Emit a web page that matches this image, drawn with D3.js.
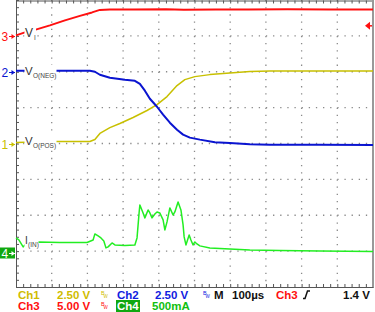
<!DOCTYPE html>
<html>
<head>
<meta charset="utf-8">
<script src="https://cdn.jsdelivr.net/npm/d3@7"></script>
<style>
  body { margin: 0; background: #fff; }
  svg { display: block; font-family: "Liberation Sans", Arial, sans-serif; }
</style>
</head>
<body>
<div id="chart"></div>
<script>
// time in microseconds (10 div x 100us), values in channel units
var ch3T = [0, 25, 53, 95, 137, 179, 213, 235, 263, 330, 420, 470, 560, 650, 760, 880, 1000];
var ch3V = [0.07, 0.49, 0.84, 1.46, 2.16, 2.79, 3.27, 3.62, 3.69, 3.66, 3.70, 3.64, 3.69, 3.67, 3.70, 3.66, 3.68];

var ch2T = [0, 109, 207, 221, 235, 263, 305, 333, 347, 361, 375, 395, 412, 431, 451, 468, 487, 515, 557, 599, 655, 711, 850, 1000];
var ch2V = [0.07, 0.07, 0.07, 0, -0.21, -0.42, -0.56, -0.63, -0.84, -1.32, -1.88, -2.44, -2.99, -3.55, -4.04, -4.38, -4.59, -4.73, -4.91, -4.97, -5.05, -5.08, -5.08, -5.1];

var ch1T = [0, 109, 207, 221, 235, 263, 291, 328, 367, 395, 423, 451, 473, 501, 543, 599, 655, 711, 850, 1000];
var ch1V = [0.07, 0.14, 0.14, 0.28, 0.70, 1.11, 1.39, 1.81, 2.30, 2.71, 3.27, 4.04, 4.45, 4.66, 4.80, 4.91, 5.01, 5.05, 5.05, 5.05];

var ch4T = [0, 8, 20, 25, 62, 123, 199, 216, 221, 230, 238, 246, 252, 258, 269, 277, 305, 333, 339, 345, 347, 356, 361, 370, 375, 381, 389, 395, 403, 412, 417, 423, 431, 440, 445, 454, 462, 468, 471, 476, 485, 490, 496, 501, 507, 515, 543, 599, 655, 739, 851, 1000];
var ch4mA = [209, 181, 84, 111, 153, 146, 146, 181, 265, 237, 209, 167, 70, 84, 139, 111, 104, 111, 209, 571, 669, 557, 488, 599, 557, 488, 543, 571, 557, 460, 320, 432, 627, 529, 571, 710, 599, 390, 223, 111, 251, 181, 111, 153, 125, 98, 70, 56, 42, 35, 28, 21];

// channel settings: per division and ground position in divisions from the bottom
var channels = [
  {name: "ch1", t: ch1T, v: ch1V, perDiv: 2.5, gnd: 4, color: "#c8c000", w: 1.5},
  {name: "ch3", t: ch3T, v: ch3V, perDiv: 5, gnd: 7, color: "#ff1010", w: 2},
  {name: "ch2", t: ch2T, v: ch2V, perDiv: 2.5, gnd: 6, color: "#0a14d0", w: 2},
  {name: "ch4", t: ch4T, v: ch4mA, perDiv: 500, gnd: 0.95, color: "#22ee22", w: 1.5}
];

var W = 375, H = 312;
var plotL = 16, plotR = 373, plotT = 0, plotB = 287;

var x = d3.scaleLinear().domain([0, 1000]).range([plotL, plotR]);
var yDiv = d3.scaleLinear().domain([0, 8]).range([plotB, plotT]);

var svg = d3.select("#chart").append("svg")
    .attr("width", W)
    .attr("height", H);

// dotted graticule
var grid = svg.append("g").attr("class", "grid");
grid.selectAll(".vg").data(d3.range(1, 10)).enter().append("line")
    .attr("x1", function(d) { return x(d * 100); })
    .attr("x2", function(d) { return x(d * 100); })
    .attr("y1", plotT).attr("y2", plotB)
    .attr("stroke", "#8a8a8a")
    .attr("stroke-width", 1.3)
    .attr("stroke-dasharray", "1.3 5.875");
grid.selectAll(".hg").data(d3.range(1, 8)).enter().append("line")
    .attr("y1", function(d) { return yDiv(d); })
    .attr("y2", function(d) { return yDiv(d); })
    .attr("x1", plotL).attr("x2", plotR)
    .attr("stroke", "#8a8a8a")
    .attr("stroke-width", 1.3)
    .attr("stroke-dasharray", "1.3 5.84");

// border with inward minor ticks
svg.append("g")
    .attr("transform", "translate(0," + plotB + ")")
    .call(d3.axisBottom(x).tickValues(d3.range(0, 1001, 20)).tickSize(-3).tickFormat(""))
    .call(function(g) { g.selectAll("line, path").attr("stroke", "#555"); });
svg.append("g")
    .attr("transform", "translate(0," + (plotT + 0.5) + ")")
    .call(d3.axisTop(x).tickValues(d3.range(0, 1001, 20)).tickSize(-3).tickFormat(""))
    .call(function(g) { g.selectAll("line, path").attr("stroke", "#555"); });
svg.append("g")
    .attr("transform", "translate(" + plotL + ",0)")
    .call(d3.axisLeft(yDiv).tickValues(d3.range(0, 8.01, 0.2)).tickSize(-3).tickFormat(""))
    .call(function(g) { g.selectAll("line, path").attr("stroke", "#555"); });
svg.append("line")
    .attr("x1", plotR).attr("x2", plotR).attr("y1", 0).attr("y2", plotB)
    .attr("stroke", "#999").attr("stroke-width", 2);

// traces
channels.forEach(function(ch) {
  var line = d3.line()
      .x(function(d, i) { return x(ch.t[i]); })
      .y(function(d) { return yDiv(ch.gnd + d / ch.perDiv); });
  svg.append("path")
      .datum(ch.v)
      .attr("class", ch.name)
      .attr("d", line)
      .attr("fill", "none")
      .attr("stroke", ch.color)
      .attr("stroke-width", ch.w)
      .attr("stroke-linejoin", "round");
});

// trace labels with white background
var labels = [
  {main: "V", sub: "I", y: 37, size: 12, box: [24.5, 27, 11.5, 13], subX: 34},
  {main: "V", sub: "O(NEG)", y: 75, size: 11.5, box: [24.5, 65, 32, 15], subX: 33},
  {main: "V", sub: "O(POS)", y: 145, size: 11.5, box: [24.5, 135, 32, 15], subX: 33},
  {main: "I", sub: "(IN)", y: 244, size: 10, box: [24.5, 235, 14, 15], subX: 28}
];
labels.forEach(function(l) {
  svg.append("rect")
      .attr("x", l.box[0]).attr("y", l.box[1])
      .attr("width", l.box[2]).attr("height", l.box[3])
      .attr("fill", "#fff");
  svg.append("text")
      .attr("x", 25).attr("y", l.y)
      .attr("font-size", l.size)
      .attr("fill", "#333")
      .text(l.main);
  svg.append("text")
      .attr("x", l.subX).attr("y", l.y + 3)
      .attr("font-size", 6.5)
      .attr("fill", "#444")
      .text(l.sub);
});

// ground markers on the left
var markers = [
  {id: "3", gnd: 7, color: "#ff1010"},
  {id: "2", gnd: 6, color: "#0a14d0"},
  {id: "1", gnd: 4, color: "#c8c000"},
  {id: "4", gnd: 0.95, color: "#fff", box: "#10a810"}
];
markers.forEach(function(m) {
  var yy = Math.round(yDiv(m.gnd)) + 0.5;
  if (m.box) {
    svg.append("rect").attr("x", 0).attr("y", yy - 6).attr("width", 15).attr("height", 11).attr("fill", m.box);
  }
  svg.append("text")
      .attr("x", 1.5).attr("y", yy + 4.5)
      .attr("font-size", 12)
      .attr("fill", m.color)
      .text(m.id);
  svg.append("path")
      .attr("d", "M9," + yy + "H15")
      .attr("stroke", m.color).attr("stroke-width", 1);
  svg.append("path")
      .attr("d", "M11.5," + (yy - 2.5) + "L15," + yy + "L11.5," + (yy + 2.5) + "Z")
      .attr("fill", m.color);
});

// trigger level marker (Ch3, 1.4 V)
var trigY = yDiv(7 + 1.4 / 5);
svg.append("path")
    .attr("d", "M365," + trigY + "L370," + (trigY - 4) + "L370," + (trigY + 4) + "Z")
    .attr("fill", "#ff1010");
svg.append("line")
    .attr("x1", 368).attr("x2", 372).attr("y1", trigY).attr("y2", trigY)
    .attr("stroke", "#ff1010").attr("stroke-width", 1.5);

// readout rows
var row1 = [
  {t: "Ch1", x: 18, c: "#d0bc00"},
  {t: "2.50 V", x: 57, c: "#d0bc00"},
  {t: "Ch2", x: 117, c: "#1020e0"},
  {t: "2.50 V", x: 155, c: "#1020e0"},
  {t: "M", x: 214, c: "#111"},
  {t: "100µs", x: 232, c: "#111"},
  {t: "Ch3", x: 276, c: "#ff1010"},
  {t: "1.4 V", x: 343, c: "#111"}
];
var row2 = [
  {t: "Ch3", x: 18, c: "#ff1010"},
  {t: "5.00 V", x: 57, c: "#ff1010"},
  {t: "500mA", x: 152, c: "#10c010"}
];
svg.append("rect").attr("x", 116).attr("y", 300).attr("width", 24).attr("height", 12).attr("fill", "#10a810");
row2.push({t: "Ch4", x: 117, c: "#fff"});

svg.selectAll(".r1").data(row1).enter().append("text")
    .attr("x", function(d) { return d.x; })
    .attr("y", 299)
    .attr("font-size", 11.5)
    .attr("font-weight", "bold")
    .attr("fill", function(d) { return d.c; })
    .text(function(d) { return d.t; });
svg.selectAll(".r2").data(row2).enter().append("text")
    .attr("x", function(d) { return d.x; })
    .attr("y", 310)
    .attr("font-size", 11.5)
    .attr("font-weight", "bold")
    .attr("fill", function(d) { return d.c; })
    .text(function(d) { return d.t; });

// bandwidth limit glyphs
[{x: 101, y: 296, c: "#d0bc00"}, {x: 203, y: 296, c: "#1020e0"}, {x: 101, y: 307, c: "#ff1010"}].forEach(function(b) {
  svg.append("text").attr("x", b.x).attr("y", b.y - 1).attr("font-size", 5.5).attr("fill", b.c).text("B");
  svg.append("text").attr("x", b.x + 2.5).attr("y", b.y + 2).attr("font-size", 4.5).attr("fill", b.c).text("W");
});

// rising edge glyph
svg.append("path")
    .attr("d", "M303,298.5 H305 L307.5,291 H310")
    .attr("fill", "none").attr("stroke", "#111").attr("stroke-width", 1.5);
</script>
</body>
</html>
